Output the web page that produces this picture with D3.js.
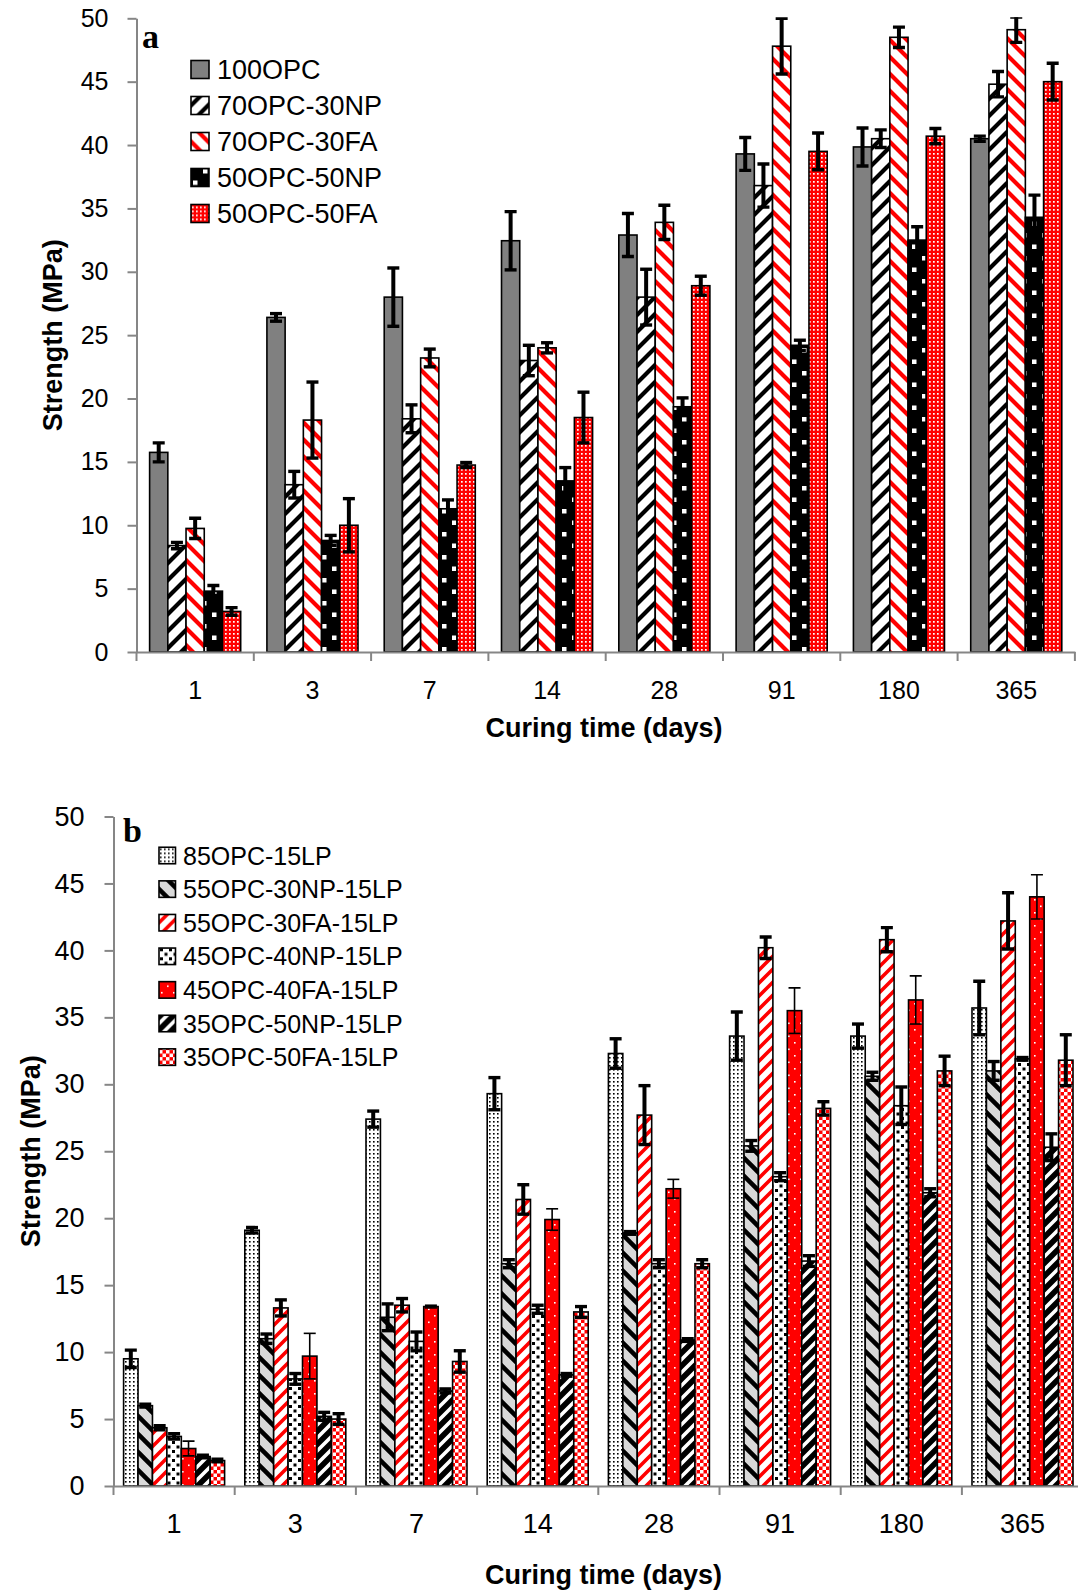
<!DOCTYPE html>
<html>
<head>
<meta charset="utf-8">
<script src="https://cdn.jsdelivr.net/npm/d3@7"></script>
<style>
  body { margin: 0; background: #fff; }
  svg { display: block; }
  text { font-family: "Liberation Sans", Arial, sans-serif; fill: #000; }
</style>
</head>
<body>
<svg id="chart" width="1078" height="1593"></svg>
<script>
// ---- data ----
const curingDays = ["1", "3", "7", "14", "28", "91", "180", "365"];
const strengthTicks = [0, 5, 10, 15, 20, 25, 30, 35, 40, 45, 50];

// (a) binary / ternary blends without limestone powder
const seriesA = ["100OPC", "70OPC-30NP", "70OPC-30FA", "50OPC-50NP", "50OPC-50FA"];
const strengthA = [
  [15.75, 26.4, 28.0, 32.45, 32.9, 39.3, 39.85, 40.5],
  [8.4, 13.2, 18.4, 23.0, 28.0, 36.8, 40.5, 44.8],
  [9.75, 18.3, 23.2, 24.0, 33.9, 47.8, 48.5, 49.1],
  [4.8, 8.8, 11.3, 13.5, 19.35, 24.2, 32.5, 34.3],
  [3.2, 10.0, 14.75, 18.5, 28.9, 39.5, 40.7, 45.0]
];
const errorA = [
  [0.75, 0.3, 2.3, 2.3, 1.7, 1.3, 1.5, 0.2],
  [0.25, 1.05, 1.1, 1.2, 2.2, 1.7, 0.7, 1.0],
  [0.8, 3.0, 0.7, 0.4, 1.35, 2.2, 0.8, 1.0],
  [0.45, 0.4, 0.7, 1.05, 0.7, 0.4, 1.05, 1.75],
  [0.3, 2.1, 0.2, 2.0, 0.75, 1.45, 0.6, 1.45]
];

// (b) blends with 15% limestone powder
const seriesB = ["85OPC-15LP", "55OPC-30NP-15LP", "55OPC-30FA-15LP", "45OPC-40NP-15LP",
                 "45OPC-40FA-15LP", "35OPC-50NP-15LP", "35OPC-50FA-15LP"];
const strengthB = [
  [9.5, 19.1, 27.4, 29.3, 32.3, 33.6, 33.6, 35.7],
  [6.0, 11.0, 12.6, 16.6, 18.9, 25.4, 30.6, 31.0],
  [4.35, 13.3, 13.5, 21.4, 27.7, 40.2, 40.8, 42.2],
  [3.7, 8.0, 10.8, 13.2, 16.6, 23.1, 28.4, 31.9],
  [2.8, 9.7, 13.4, 19.9, 22.2, 35.5, 36.3, 44.0],
  [2.2, 5.2, 7.1, 8.3, 10.9, 16.8, 21.9, 25.3],
  [1.9, 5.0, 9.3, 13.0, 16.6, 28.2, 31.0, 31.8]
];
const errorB = [
  [0.65, 0.2, 0.6, 1.2, 1.1, 1.8, 0.9, 2.0],
  [0.1, 0.35, 1.0, 0.3, 0.1, 0.4, 0.3, 0.7],
  [0.15, 0.6, 0.5, 1.1, 2.2, 0.8, 0.9, 2.1],
  [0.2, 0.4, 0.7, 0.3, 0.3, 0.3, 1.4, 0.1],
  [0.55, 1.7, 0.1, 0.8, 0.7, 1.7, 1.8, 1.65],
  [0.1, 0.3, 0.15, 0.1, 0.1, 0.4, 0.3, 1.0],
  [0.1, 0.4, 0.8, 0.4, 0.3, 0.5, 1.1, 1.9]
];

// ---- fill patterns ----
const svg = d3.select("#chart");
svg.append("rect").attr("width", 1078).attr("height", 1593).attr("fill", "#fff");
const defs = svg.append("defs");

function pattern(id, w, h, bg, draw) {
  const p = defs.append("pattern").attr("id", id)
    .attr("patternUnits", "userSpaceOnUse").attr("width", w).attr("height", h);
  p.append("rect").attr("width", w).attr("height", h).attr("fill", bg);
  draw(p, w, h);
}
function stripes(dir, color, width) {
  return (p, s) => {
    const d = dir === "/"
      ? `M0,${s}L${s},0M${-s/2},${s/2}L${s/2},${-s/2}M${s/2},${1.5*s}L${1.5*s},${s/2}`
      : `M0,0L${s},${s}M${-s/2},${s/2}L${s/2},${1.5*s}M${s/2},${-s/2}L${1.5*s},${s/2}`;
    p.append("path").attr("d", d).attr("stroke", color).attr("stroke-width", width)
      .attr("fill", "none");
  };
}
function squares(color, size, spots) {
  return p => spots.forEach(([x, y]) =>
    p.append("rect").attr("x", x).attr("y", y).attr("width", size).attr("height", size)
      .attr("fill", color));
}

pattern("a-opc", 4, 4, "#808080", () => {});
pattern("a-np30", 17, 17, "#fff", stripes("/", "#000", 4.2));
pattern("a-fa30", 17, 17, "#fff", stripes("\\", "#f00", 4.2));
pattern("a-np50", 20, 23, "#000", squares("#fff", 4.5, [[2, 3], [12, 14.5]]));
pattern("a-fa50", 4, 4, "#f00", squares("#fff", 1.7, [[1, 1]]));

pattern("b-lp", 4, 4, "#fff", squares("#000", 1.6, [[1, 1]]));
pattern("b-np30", 18, 18, "#d9d9d9", stripes("\\", "#000", 4.5));
pattern("b-fa30", 13, 13, "#fff", stripes("/", "#f00", 3.6));
pattern("b-np40", 9, 9, "#fff", squares("#000", 3, [[1, 1], [5.5, 5.5]]));
pattern("b-fa40", 12, 13, "#f00", squares("#fff", 1.6, [[2, 2], [8, 8.5]]));
pattern("b-np50", 13, 13, "#000", stripes("/", "#fff", 3.6));
pattern("b-fa50", 7, 7, "#f00", squares("#fff", 3.5, [[0, 0], [3.5, 3.5]]));

const fillsA = ["a-opc", "a-np30", "a-fa30", "a-np50", "a-fa50"];
const fillsB = ["b-lp", "b-np30", "b-fa30", "b-np40", "b-fa40", "b-np50", "b-fa50"];
const thinErrorB = [false, false, false, false, true, false, false];

// ---- one panel ----
function drawPanel(cfg) {
  const g = svg.append("g");
  const x = d3.scaleBand().domain(curingDays).range([cfg.x0, cfg.x1]).padding(0);
  const xs = d3.scaleBand().domain(cfg.series).range([0, x.bandwidth()])
    .paddingInner(0).paddingOuter(cfg.outer);
  const y = d3.scaleLinear().domain([0, 50]).range([cfg.y0, cfg.y50]);

  const clipId = "clip-" + cfg.key;
  defs.append("clipPath").attr("id", clipId).append("rect")
    .attr("x", cfg.x0).attr("y", y(50) - 1).attr("width", cfg.x1 - cfg.x0)
    .attr("height", y(0) - y(50) + 1);

  const rows = cfg.series.map((s, i) => curingDays.map((d, j) => ({
    s, i, d, v: cfg.values[i][j], e: cfg.errors[i][j]
  })));

  const plot = g.append("g").attr("clip-path", `url(#${clipId})`);
  rows.forEach((r, i) => {
    plot.append("g").selectAll("rect").data(r).join("rect")
      .attr("x", d => x(d.d) + xs(d.s))
      .attr("y", d => y(d.v))
      .attr("width", xs.bandwidth())
      .attr("height", d => y(0) - y(d.v))
      .attr("fill", `url(#${cfg.fills[i]})`)
      .attr("stroke", "#000").attr("stroke-width", 1.6);
  });
  rows.forEach((r, i) => {
    const thin = cfg.thin && cfg.thin[i];
    const lw = thin ? 1.6 : 4, cw = 12, ch = thin ? 1.6 : 3.4;
    const eg = plot.append("g").selectAll("g").data(r).join("g")
      .attr("transform", d => `translate(${x(d.d) + xs(d.s) + xs.bandwidth() / 2},0)`);
    eg.append("line").attr("y1", d => y(d.v - d.e)).attr("y2", d => y(d.v + d.e))
      .attr("stroke", "#000").attr("stroke-width", lw);
    [-1, 1].forEach(k => eg.append("line")
      .attr("x1", -cw / 2).attr("x2", cw / 2)
      .attr("y1", d => y(d.v + k * d.e)).attr("y2", d => y(d.v + k * d.e))
      .attr("stroke", "#000").attr("stroke-width", ch));
  });

  // value axis
  const ya = g.append("g").attr("transform", `translate(${cfg.x0},0)`)
    .call(d3.axisLeft(y).tickValues(strengthTicks).tickSize(9).tickSizeOuter(0)
      .tickPadding(cfg.tickPad));
  ya.selectAll("text").style("font-size", cfg.tickFont + "px").attr("fill", "#000");
  // category axis
  const xa = g.append("g").attr("transform", `translate(0,${y(0)})`)
    .call(d3.axisBottom(x).tickSize(0).tickSizeOuter(0).tickPadding(cfg.xPad));
  xa.selectAll("text").style("font-size", cfg.tickFont + "px").attr("fill", "#000");
  const seps = curingDays.map(d => x(d)).concat([x(curingDays[curingDays.length - 1]) + x.step()]);
  xa.selectAll("line.sep").data(seps).join("line").attr("class", "sep")
    .attr("x1", d => d).attr("x2", d => d).attr("y1", 0).attr("y2", 9);
  [ya, xa].forEach(a => {
    a.selectAll("path.domain, line").attr("stroke", "#868686").attr("stroke-width", 2);
  });

  // titles
  g.append("text").attr("transform", `translate(${cfg.yTitleX},${(y(0) + y(50)) / 2}) rotate(-90)`)
    .attr("text-anchor", "middle").attr("dy", "0.35em")
    .style("font-size", "27px").style("font-weight", "bold").text("Strength (MPa)");
  g.append("text").attr("x", cfg.xTitleX).attr("y", cfg.xTitleY)
    .attr("text-anchor", "middle")
    .style("font-size", "27px").style("font-weight", "bold").text("Curing time (days)");
  g.append("text").attr("x", cfg.tagX).attr("y", cfg.tagY)
    .style("font-family", "'Liberation Serif', 'Times New Roman', serif")
    .style("font-size", "34px").style("font-weight", "bold").text(cfg.key);

  // legend
  const lg = g.append("g").selectAll("g").data(cfg.series).join("g")
    .attr("transform", (d, i) => `translate(${cfg.legX},${cfg.legY + i * cfg.legStep})`);
  lg.append("rect").attr("x", 0).attr("y", -cfg.sw / 2).attr("width", cfg.sw).attr("height", cfg.sw)
    .attr("fill", (d, i) => `url(#${cfg.fills[i]})`).attr("stroke", "#000").attr("stroke-width", 1.6);
  lg.append("text").attr("x", cfg.legText).attr("dy", "0.36em")
    .style("font-size", cfg.legFont + "px").text(d => d);
}

drawPanel({
  key: "a", series: seriesA, values: strengthA, errors: errorA, fills: fillsA,
  x0: 136.5, x1: 1074.9, y0: 652, y50: 18.3, outer: 0.72,
  tickPad: 19, tickFont: 25, xPad: 29,
  yTitleX: 53, xTitleX: 604, xTitleY: 737,
  tagX: 142, tagY: 48,
  legX: 191, legY: 69.5, legStep: 36, sw: 18, legText: 26, legFont: 27
});

drawPanel({
  key: "b", series: seriesB, values: strengthB, errors: errorB, fills: fillsB, thin: thinErrorB,
  x0: 113.5, x1: 1083.1, y0: 1486, y50: 816.5, outer: 0.7,
  tickPad: 20, tickFont: 27, xPad: 28,
  yTitleX: 30.5, xTitleX: 603.5, xTitleY: 1583.5,
  tagX: 123, tagY: 841.5,
  legX: 159, legY: 855.5, legStep: 33.6, sw: 16.5, legText: 24, legFont: 25
});
</script>
</body>
</html>
